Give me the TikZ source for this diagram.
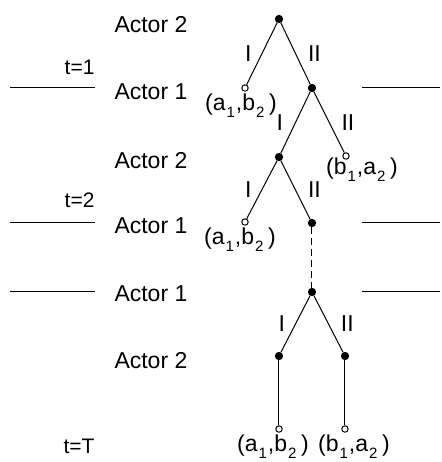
\documentclass[tikz,border=0pt]{standalone}
\usepackage{fontspec}
\setmainfont{Liberation Sans}
\usetikzlibrary{positioning}

\newcommand{\lowsub}[1]{\kern0.5pt\raisebox{-0.55ex}{\fontsize{7.5}{8}\selectfont #1}\kern0.5pt}

\begin{document}
\begin{tikzpicture}[
    x=0.5pt, y=-0.5pt,
    line width=0.5pt,
    % Node Styles
    move/.style={circle, draw=black, fill=black, minimum size=3.6pt, inner sep=0pt},
    payoff/.style={circle, draw=black, fill=white, minimum size=3.2pt, inner sep=0pt},
    actor/.style={anchor=west, font=\fontsize{11.5}{13}\selectfont, inner sep=0pt},
    period/.style={anchor=east, font=\fontsize{10.5}{12}\selectfont, inner sep=0pt},
    outcome/.style={font=\fontsize{11.5}{13}\selectfont, inner sep=0pt},
    choice/.style={font=\fontsize{11.5}{13}\selectfont, inner sep=1pt},
    stage/.style={draw=black, line width=0.5pt}
]
\useasboundingbox (0,0) rectangle (441,462);

% --- 1. Decision Nodes ---
\node[move] (n0) at (279,19) {};
\node[move] (n1) at (312,88) {};
\node[move] (n2) at (279,157) {};
\node[move] (n3) at (312,223) {};
\node[move] (n4) at (312,292) {};
\node[move] (n5) at (279,356) {};
\node[move] (n6) at (345,356) {};

% --- 2. Terminal Nodes ---
\node[payoff] (l1) at (245,88) {};
\node[payoff] (l2) at (346,156) {};
\node[payoff] (l3) at (245,222) {};
\node[payoff] (l4) at (279,429) {};
\node[payoff] (l5) at (345,429) {};

% --- 3. Outcomes ---
\node[outcome] (o1) at (241,106) {(a\lowsub{1},b\lowsub{2}\,)};
\node[outcome] (o2) at (362,170) {(b\lowsub{1},a\lowsub{2}\,)};
\node[outcome] (o3) at (240,240) {(a\lowsub{1},b\lowsub{2}\,)};
\node[outcome] (o4) at (273,447) {(a\lowsub{1},b\lowsub{2}\,)};
\node[outcome] (o5) at (354,447) {(b\lowsub{1},a\lowsub{2}\,)};

% --- 4. Actors (left column) ---
\node[actor] (a1) at (114,25) {Actor 2};
\node[actor] (a2) at (114,92) {Actor 1};
\node[actor] (a3) at (114,161) {Actor 2};
\node[actor] (a4) at (114,226) {Actor 1};
\node[actor] (a5) at (114,294) {Actor 1};
\node[actor] (a6) at (114,361) {Actor 2};

% --- 5. Periods ---
\node[period] (t1) at (95,67) {t=1};
\node[period] (t2) at (95,200) {t=2};
\node[period] (tT) at (95,446) {t=T};

% --- Edges ---
% First round
\draw (n0) -- (l1) node[choice, midway, left=4pt] {I};
\draw (n0) -- (n1) node[choice, midway, right=5pt] {II};
\draw (n1) -- (n2) node[choice, midway, left=5pt] {I};
\draw (n1) -- (l2) node[choice, midway, right=5pt] {II};

% Second round
\draw (n2) -- (l3) node[choice, midway, left=4pt] {I};
\draw (n2) -- (n3) node[choice, midway, right=5pt] {II};

% Skipped rounds
\draw[dash pattern=on 3.5pt off 2pt] (n3) -- (n4);

% Last round
\draw (n4) -- (n5) node[choice, midway, left=4pt] {I};
\draw (n4) -- (n6) node[choice, midway, right=5pt] {II};
\draw (n5) -- (l4);
\draw (n6) -- (l5);

% --- Period separators ---
\foreach \y in {87,222,291} {
    \draw[stage] (10,\y) -- (95,\y);
    \draw[stage] (362,\y) -- (440,\y);
}

\end{tikzpicture}
\end{document}
